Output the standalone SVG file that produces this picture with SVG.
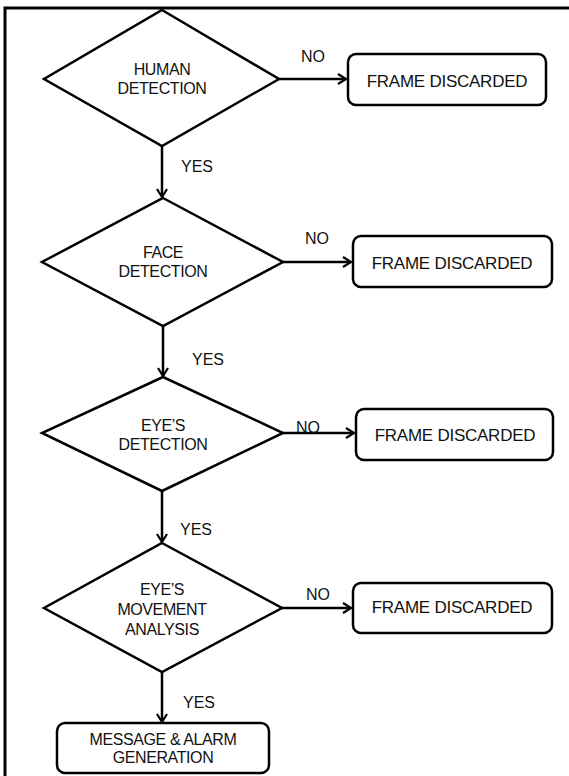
<svg xmlns="http://www.w3.org/2000/svg" width="569" height="776" viewBox="0 0 569 776">
<style>
.s{fill:#fff;stroke:#000;stroke-width:2.5;stroke-linejoin:miter}
.b{fill:#fff;stroke:#000;stroke-width:2.5}
.t{font-family:"Liberation Sans",Arial,sans-serif;font-size:16px;letter-spacing:-0.4px;fill:#111;text-anchor:middle}
.f{font-size:17px;letter-spacing:-0.25px}
.l{font-family:"Liberation Sans",Arial,sans-serif;font-size:16px;fill:#111}
.c{fill:none;stroke:#000;stroke-width:2.5}
</style>
<defs>
<marker id="ah" viewBox="0 0 12 12" refX="10" refY="6" markerWidth="12" markerHeight="12" markerUnits="userSpaceOnUse" orient="auto">
<polyline points="2,1 10,6 2,11" fill="none" stroke="#000" stroke-width="2.2"/>
</marker>
</defs>
<rect width="569" height="776" fill="#fff"/>
<polyline points="5,776 5,8 569,8" fill="none" stroke="#000" stroke-width="3"/>
<g id="connectors">
<line class="c" x1="279" y1="79" x2="346" y2="79" marker-end="url(#ah)"/>
<line class="c" x1="283" y1="262" x2="351" y2="262" marker-end="url(#ah)"/>
<line class="c" x1="283" y1="433" x2="354" y2="433" marker-end="url(#ah)"/>
<line class="c" x1="282" y1="608" x2="351" y2="608" marker-end="url(#ah)"/>
<line class="c" x1="162" y1="146" x2="162" y2="197" marker-end="url(#ah)"/>
<line class="c" x1="163" y1="326" x2="163" y2="376" marker-end="url(#ah)"/>
<line class="c" x1="162" y1="491" x2="162" y2="542" marker-end="url(#ah)"/>
<line class="c" x1="162" y1="672" x2="162" y2="722" marker-end="url(#ah)"/>
<text class="l" x="301" y="62">NO</text>
<text class="l" x="305" y="244">NO</text>
<text class="l" x="296" y="433">NO</text>
<text class="l" x="306" y="600">NO</text>
<text class="l" x="181" y="172">YES</text>
<text class="l" x="192" y="365">YES</text>
<text class="l" x="180" y="535">YES</text>
<text class="l" x="183" y="708">YES</text>
</g>
<g id="d1">
<polygon class="s" points="162,10 279,79 162,146 44,79"/>
<text class="t" x="162" y="75">HUMAN</text>
<text class="t" x="162" y="94">DETECTION</text>
</g>
<g id="b1">
<rect class="b" x="348" y="54" width="198" height="51" rx="8"/>
<text class="t f" x="447" y="87">FRAME DISCARDED</text>
</g>
<g id="d2">
<polygon class="s" points="163,198 283,262 163,326 42,262"/>
<text class="t" x="163" y="258">FACE</text>
<text class="t" x="163" y="277">DETECTION</text>
</g>
<g id="b2">
<rect class="b" x="353" y="236" width="199" height="51" rx="8"/>
<text class="t f" x="452" y="269">FRAME DISCARDED</text>
</g>
<g id="d3">
<polygon class="s" points="163,377 283,433 162,491 42,433"/>
<text class="t" x="163" y="431">EYE’S</text>
<text class="t" x="163" y="450">DETECTION</text>
</g>
<g id="b3">
<rect class="b" x="356" y="409" width="197" height="51" rx="8"/>
<text class="t f" x="455" y="441">FRAME DISCARDED</text>
</g>
<g id="d4">
<polygon class="s" points="162,543 282,608 162,672 44,608"/>
<text class="t" x="162" y="595">EYE’S</text>
<text class="t" x="162" y="615">MOVEMENT</text>
<text class="t" x="162" y="635">ANALYSIS</text>
</g>
<g id="b4">
<rect class="b" x="353" y="583" width="199" height="50" rx="8"/>
<text class="t f" x="452" y="613">FRAME DISCARDED</text>
</g>
<g id="b5">
<rect class="b" x="57" y="723" width="212" height="50" rx="8"/>
<text class="t" x="163" y="745">MESSAGE &amp; ALARM</text>
<text class="t" x="163" y="763">GENERATION</text>
</g>
</svg>
